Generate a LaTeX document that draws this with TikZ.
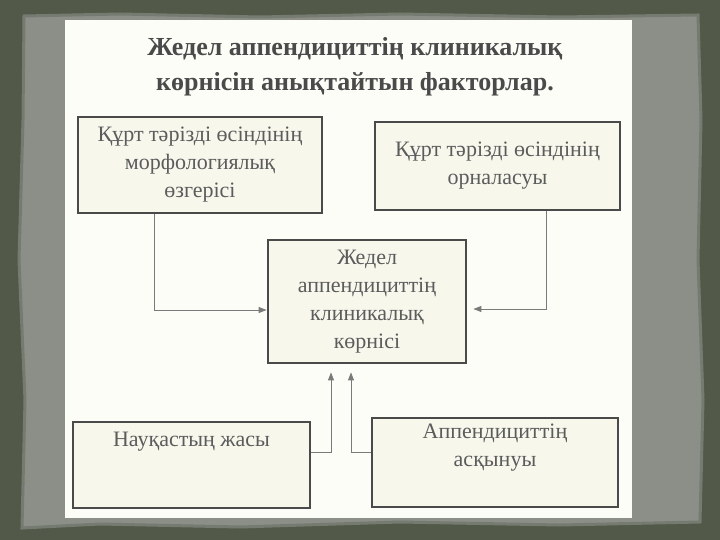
\documentclass[tikz,border=0pt]{standalone}
\usepackage{fontspec}
\setmainfont{Liberation Serif}[BoldFont={Liberation Serif Bold},ItalicFont={Liberation Serif Italic}]
\usetikzlibrary{arrows.meta,calc}
\definecolor{outerbg}{HTML}{535948}
\definecolor{paper}{HTML}{8B8F87}
\definecolor{paperedge}{HTML}{767B71}
\definecolor{sheet}{HTML}{FDFDF8}
\definecolor{boxfill}{HTML}{F7F7EC}
\definecolor{ink}{HTML}{4A4A4A}
\definecolor{txt}{HTML}{5C5C5C}
\definecolor{linec}{HTML}{7A7A7A}
\begin{document}
\begin{tikzpicture}[x=1pt,y=-1pt,
  box/.style={draw=ink,line width=2.8pt,fill=boxfill,inner sep=0pt},
  lbl/.style={text=txt,font=\fontsize{22}{28}\selectfont,align=center,inner sep=0pt},
  conn/.style={draw=linec,line width=0.9pt},
  arr/.style={conn,-{Triangle[length=8pt,width=6pt]}}]
\useasboundingbox (0,0) rectangle (720,540);
\fill[outerbg] (0,0) rectangle (720,540);
\fill[paper,draw=paperedge,line width=3pt]
  (24,16) -- (120,14) -- (260,17) -- (400,14) -- (560,17) -- (698,15)
  -- (701,120) -- (698,260) -- (703,400) -- (700,522)
  -- (560,525) -- (400,522) -- (240,527) -- (100,524) -- (22,528)
  -- (25,400) -- (19,260) -- (23,120) -- cycle;
\fill[sheet] (65,20) rectangle (632,518);
\node[font=\bfseries\fontsize{26}{35}\selectfont,text=ink,align=center] (title) at (355,67)
  {Жедел аппендициттің клиникалық\\көрнісін анықтайтын факторлар.};
% boxes
\node[box,minimum width=244pt,minimum height=96pt] (b1) at (200,165) {};
\node[lbl] (t1) at (b1) {Құрт тәрізді өсіндінің\\морфологиялық\\өзгерісі};
\node[box,minimum width=245pt,minimum height=88pt] (b2) at (497.5,166) {};
\node[lbl] (t2) at (b2) {Құрт тәрізді өсіндінің\\орналасуы};
\node[box,minimum width=198pt,minimum height=123pt] (b3) at (367,301.5) {};
\node[lbl] (t3) at (b3) {Жедел\\аппендициттің\\клиникалық\\көрнісі};
\node[box,minimum width=237pt,minimum height=86pt] (b4) at (191.5,465) {};
\node[lbl] (t4) at (191.5,442) {Науқастың жасы};
\node[box,minimum width=246pt,minimum height=89pt] (b5) at (495,462.5) {};
\node[lbl] (t5) at (495,448) {Аппендициттің\\асқынуы};
% connectors
\coordinate (p1) at (154,310);
\coordinate (p2) at (546,309);
\coordinate (p3) at (331,452);
\coordinate (p4) at (351,452);
\draw[arr] (b1.south -| p1) |- (b3.west |- p1);
\draw[arr] (b2.south -| p2) |- ($(b3.east |- p2)+(6,0)$);
\draw[arr] (b4.east |- p3) -| ($(b3.south -| p3)+(0,8)$);
\draw[arr] (b5.west |- p4) -| ($(b3.south -| p4)+(0,8)$);
\end{tikzpicture}
\end{document}
